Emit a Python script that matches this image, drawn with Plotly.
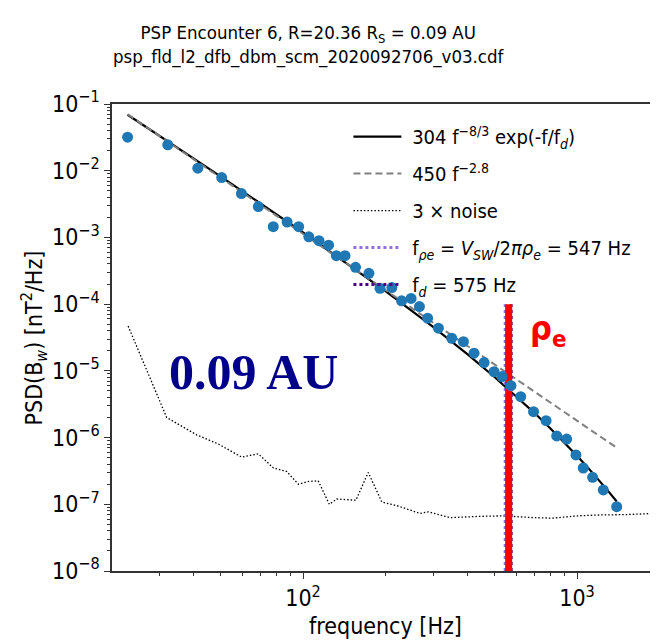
import plotly.graph_objects as go

# ---- data ----
freq = [22.9, 32.1, 41.3, 50.5, 59.6, 68.7, 77.9, 87.5, 96.4, 105, 114.4, 124, 132.4, 142.3,
        155.5, 174, 191, 211, 229, 248, 266, 285, 312, 349, 385, 421, 458, 498, 533, 574,
        623, 694, 771, 843, 917, 991, 1054, 1140, 1247, 1396]
psd = [0.0318, 0.0244, 0.0109, 0.00789, 0.00454, 0.0029, 0.00145, 0.0017, 0.00145, 0.00102,
       0.000895, 0.000764, 0.000533, 0.000533, 0.000357, 0.00029, 0.000173, 0.000177,
       0.000112, 0.000122, 9.2e-5, 6.15e-5, 4.36e-5, 3.08e-5, 2.74e-5, 1.84e-5, 1.33e-5,
       9.7e-6, 8.2e-6, 6.0e-6, 4.1e-6, 2.44e-6, 1.79e-6, 1.06e-6, 9.5e-7, 5.5e-7, 3.5e-7,
       2.54e-7, 1.64e-7, 9.2e-8]

fit_f = [22.9, 30, 50, 100, 150, 200, 300, 400, 500, 600, 700, 800, 900, 1000, 1100, 1200, 1300, 1396]
fit_exp = [0.0691, 0.0332, 0.00821, 1.186e-3, 3.69e-4, 1.569e-4, 4.47e-5, 1.746e-5, 8.09e-6,
           4.18e-6, 2.33e-6, 1.371e-6, 8.42e-7, 5.34e-7, 3.48e-7, 2.32e-7, 1.575e-7, 1.101e-7]

pow_f = [22.9, 100, 500, 1396]
pow_v = [0.0701, 1.13e-3, 1.248e-5, 7.04e-7]

noise_f = [23.0, 31.8, 40.9, 49.1, 59.7, 68.7, 78, 87.2, 96.2, 105, 113.6, 124.8, 132.7, 156,
           173, 194, 223, 267, 287, 344, 443, 538, 700, 818, 1000, 1180, 1500, 1977, 2100]
noise_v = [4.7e-5, 2.0e-6, 1.1e-6, 8.0e-7, 5.1e-7, 5.7e-7, 3.5e-7, 3.1e-7, 2.0e-7, 2.2e-7,
           2.25e-7, 1.0e-7, 1.2e-7, 1.15e-7, 3.0e-7, 1.08e-7, 9.4e-8, 7.3e-8, 7.7e-8, 6.3e-8,
           6.6e-8, 6.7e-8, 6.3e-8, 6.2e-8, 6.7e-8, 6.9e-8, 7.0e-8, 7.3e-8, 7.4e-8]

f_rho_e = 547
f_d = 575
f_marker = 563
vline_y = [1e-8, 1e-4]

x_major = [100, 1000]
x_major_text = ["10<sup>2</sup>", "10<sup>3</sup>"]
y_exps = [-8, -7, -6, -5, -4, -3, -2, -1]

FONT = "DejaVu Sans Condensed, DejaVu Sans, sans-serif"
NB = "\u00a0"

fig = go.Figure()

fig.add_trace(go.Scatter(x=fit_f, y=fit_exp, mode="lines", line=dict(color="black", width=2.2),
                         name=NB + "304 f<sup>−8/3</sup> exp(-f/f<sub><i>d</i></sub>)", legendgroup="a"))
fig.add_trace(go.Scatter(x=pow_f, y=pow_v, mode="lines", line=dict(color="#808080", width=2, dash="7px,4px"),
                         name=NB + "450 f<sup>−2.8</sup>", legendgroup="b"))
fig.add_trace(go.Scatter(x=noise_f, y=noise_v, mode="lines", line=dict(color="black", width=1.3, dash="1.5px,2px"),
                         name=NB + "3 × noise", legendgroup="c"))
fig.add_trace(go.Scatter(x=[f_rho_e, f_rho_e], y=vline_y, mode="lines",
                         line=dict(color="#9370db", width=3, dash="3px,3px"),
                         name=NB + "f<sub><i>ρe</i></sub> = <i>V<sub>SW</sub></i>/2<i>πρ<sub>e</sub></i> = 547 Hz", legendgroup="d"))
fig.add_trace(go.Scatter(x=[f_d, f_d], y=vline_y, mode="lines",
                         line=dict(color="#4b0082", width=3, dash="3px,3px"),
                         name=NB + "f<sub><i>d</i></sub> = 575 Hz", legendgroup="e"))
fig.add_trace(go.Scatter(x=[f_marker, f_marker], y=vline_y, mode="lines",
                         line=dict(color="red", width=7), showlegend=False))
fig.add_trace(go.Scatter(x=freq, y=psd, mode="markers",
                         marker=dict(color="#1f77b4", size=11), showlegend=False))

axis_line = dict(showline=True, linecolor="#333", linewidth=1.5, ticks="outside", ticklen=6,
                 tickwidth=1.2, tickcolor="#333", showgrid=False, zeroline=False, automargin=False,
                 tickfont=dict(family=FONT, size=23, color="black"))

x_minor = [m * 10 ** k for k in (1, 2, 3) for m in range(2, 10)]
y_minor = [m * 10.0 ** k for k in range(-8, -1) for m in range(2, 10)]

fig.update_xaxes(type="log", range=[1.3029, 3.2956], tickmode="array", tickvals=x_major,
                 ticktext=x_major_text, mirror=True,
                 minor=dict(tickmode="array", tickvals=x_minor, ticks="outside", ticklen=3.5,
                            tickcolor="#333", tickwidth=1, showgrid=False),
                 **axis_line)
fig.update_yaxes(type="log", range=[-8, -1], tickmode="array", tickvals=[10.0 ** e for e in y_exps],
                 ticktext=["10<sup>−%d</sup>" % (-e) for e in y_exps],
                 minor=dict(tickmode="array", tickvals=y_minor, ticks="outside", ticklen=3.5,
                            tickcolor="#333", tickwidth=1, showgrid=False),
                 **axis_line)

# the page body adds an 8px offset, so the figure is 8px smaller than the window
fig.update_layout(
    width=650, height=632,
    margin=dict(l=104, r=0, t=96, b=69, autoexpand=False),
    plot_bgcolor="white", paper_bgcolor="white",
    font=dict(family=FONT, size=20, color="black"),
    showlegend=True,
    legend=dict(x=0.433, y=0.972, xanchor="left", yanchor="top", bgcolor="rgba(0,0,0,0)",
                borderwidth=0, font=dict(family=FONT, size=20), itemwidth=48, tracegroupgap=8),
)

# titles and labels
fig.add_annotation(xref="paper", yref="paper", x=0.36, y=1.127, xanchor="center", yanchor="middle",
                   showarrow=False, align="center",
                   text="PSP Encounter 6, R=20.36 R<sub>S</sub> = 0.09 AU<br>psp_fld_l2_dfb_dbm_scm_2020092706_v03.cdf",
                   font=dict(family=FONT, size=18.5))
fig.add_annotation(xref="paper", yref="paper", x=0.501, y=-0.1178, xanchor="center", yanchor="middle",
                   showarrow=False, text="frequency [Hz]", font=dict(family=FONT, size=23))
fig.add_annotation(xref="paper", yref="paper", x=-0.1429, y=0.5, xanchor="center", yanchor="middle",
                   showarrow=False, textangle=-90, text="PSD(B<sub><i>w</i></sub>) [nT<sup>2</sup>/Hz]",
                   font=dict(family=FONT, size=23))
fig.add_annotation(xref="paper", yref="paper", x=(253.5 - 112) / 546, y=0.427,
                   xanchor="center", yanchor="middle", showarrow=False, text="<b>0.09 AU</b>",
                   font=dict(family="Liberation Serif, serif", size=50, color="#00008b"))
fig.add_annotation(xref="paper", yref="paper", x=(548 - 112) / 546, y=(571 - 330) / 467,
                   xanchor="center", yanchor="middle", showarrow=False, text="<b>ρ<sub>e</sub></b>",
                   font=dict(family=FONT, size=34, color="red"))

fig.write_html("out.html")
